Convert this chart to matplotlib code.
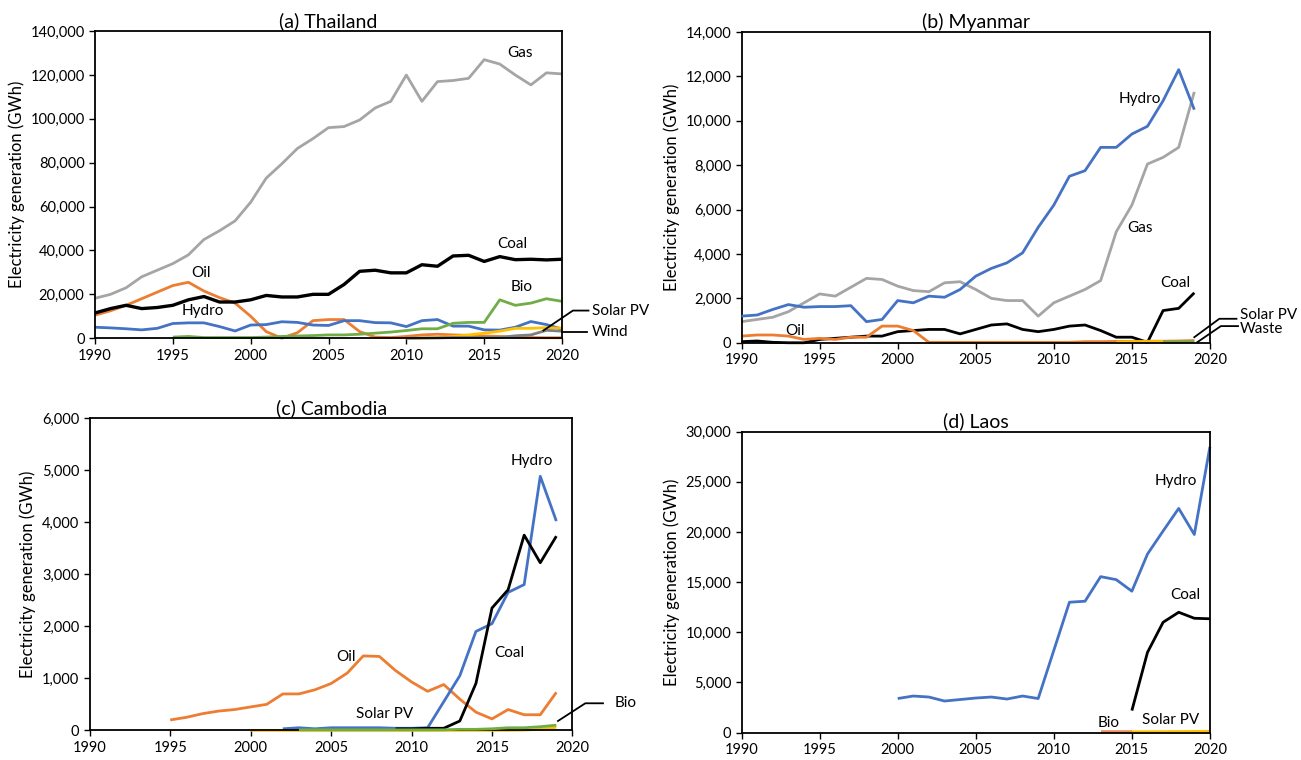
import matplotlib
matplotlib.use("Agg")
import matplotlib.pyplot as plt
from matplotlib.ticker import FuncFormatter, MultipleLocator

plt.rcParams['font.family'] = ['Lato', 'DejaVu Sans']

C_BLUE = '#4472C4'; C_ORANGE = '#ED7D31'; C_GRAY = '#A5A5A5'
C_YELLOW = '#FFC000'; C_GREEN = '#70AD47'; C_BLACK = '#000000'; C_DGRAY = '#7F7F7F'

# ---------------- (a) Thailand ----------------
th_years = list(range(1990, 2021))
th_gas = [18.2, 20, 23, 28, 31, 34, 38, 45, 49, 53.5, 62, 73, 79.5, 86.5, 91, 96, 96.5, 99.5, 105, 108,
          120, 108, 117, 117.5, 118.5, 127, 125, 120, 115.5, 121, 120.5]
th_coal = [11.5, 13.5, 15, 13.5, 14, 15, 17.5, 19, 16.5, 16.5, 17.5, 19.5, 18.8, 18.8, 20, 20, 24.5, 30.5,
           31, 29.8, 29.8, 33.5, 32.8, 37.5, 37.8, 35, 37.2, 35.8, 36, 35.7, 36]
th_oil = [10.5, 12.5, 15, 18, 21, 24, 25.5, 21.5, 18.5, 16, 10, 3, 0, 2.5, 8, 8.5, 8.5, 3, 0.5, 0.3,
          0.8, 1.5, 1.8, 1.5, 1.3, 1.0, 0.8, 0.5, 0.3, 0.2, 0.2]
th_hydro = [5, 4.7, 4.3, 3.8, 4.5, 6.7, 7, 7, 5.3, 3.3, 6, 6.2, 7.5, 7.2, 6, 5.8, 8, 8, 7.1, 7,
            5.3, 8, 8.5, 5.5, 5.5, 3.8, 3.7, 5, 7.6, 6.2, 4.2]
th_bio_years = list(range(1995, 2021))
th_bio = [0.5, 0.8, 0.3, 0.3, 0.3, 0.3, 0.5, 0.8, 1, 1.2, 1.5, 1.5, 1.8, 2.3, 2.8, 3.5, 4.3, 4.3, 6.8,
          7.2, 7.2, 17.5, 15, 16, 18, 16.8]
th_solar_years = list(range(2010, 2021))
th_solar = [0, 0.1, 0.3, 0.8, 1.5, 2.3, 3.2, 4.5, 4.5, 4.8, 4.6]
th_wind_years = list(range(2010, 2021))
th_wind = [0, 0.05, 0.1, 0.3, 0.3, 0.3, 0.3, 1.1, 1.5, 3.6, 3.2]

# ---------------- (b) Myanmar ----------------
mm_years = list(range(1990, 2020))
mm_hydro = [1.2, 1.25, 1.5, 1.72, 1.6, 1.63, 1.63, 1.67, 0.95, 1.05, 1.9, 1.8, 2.1, 2.05, 2.4, 3.0,
            3.35, 3.6, 4.05, 5.2, 6.2, 7.5, 7.75, 8.8, 8.8, 9.4, 9.75, 10.9, 12.3, 10.5]
mm_gas = [0.95, 1.05, 1.15, 1.4, 1.8, 2.2, 2.1, 2.5, 2.9, 2.85, 2.55, 2.35, 2.3, 2.7, 2.75, 2.4, 2.0,
          1.9, 1.9, 1.2, 1.8, 2.1, 2.4, 2.8, 5.0, 6.2, 8.05, 8.35, 8.8, 11.3]
mm_coal = [0.05, 0.08, 0.02, 0.0, 0.0, 0.15, 0.2, 0.25, 0.3, 0.3, 0.5, 0.55, 0.6, 0.6, 0.4, 0.6, 0.8,
           0.85, 0.6, 0.5, 0.6, 0.75, 0.8, 0.55, 0.25, 0.25, 0.02, 1.45, 1.55, 2.25]
mm_oil = [0.3, 0.35, 0.35, 0.3, 0.15, 0.2, 0.15, 0.25, 0.25, 0.75, 0.75, 0.55, 0.02, 0.02, 0.02, 0.02,
          0.02, 0.02, 0.02, 0.02, 0.02, 0.02, 0.05, 0.05, 0.06, 0.06, 0.07, 0.07, 0.08, 0.1]
mm_solar_years = list(range(2014, 2018))
mm_solar = [0.03, 0.05, 0.05, 0.06]
mm_waste_years = list(range(2017, 2020))
mm_waste = [0.04, 0.04, 0.05]

# ---------------- (c) Cambodia ----------------
kh_oil_years = list(range(1995, 2020))
kh_oil = [0.2, 0.25, 0.32, 0.37, 0.4, 0.45, 0.5, 0.7, 0.7, 0.78, 0.9, 1.1, 1.43, 1.42, 1.15, 0.93,
          0.75, 0.88, 0.6, 0.35, 0.22, 0.4, 0.3, 0.3, 0.73]
kh_hydro_years = list(range(2002, 2020))
kh_hydro = [0.03, 0.05, 0.03, 0.05, 0.05, 0.05, 0.05, 0.04, 0.04, 0.05, 0.55, 1.05, 1.9, 2.05, 2.65,
            2.8, 4.88, 4.02]
kh_coal_years = list(range(2009, 2020))
kh_coal = [0.03, 0.03, 0.04, 0.04, 0.18, 0.9, 2.35, 2.7, 3.75, 3.22, 3.73]
kh_bio_years = list(range(2003, 2020))
kh_bio = [0.01, 0.01, 0.01, 0.01, 0.01, 0.01, 0.01, 0.01, 0.01, 0.01, 0.02, 0.02, 0.03, 0.05, 0.05,
          0.07, 0.1]
kh_solar_years = list(range(2000, 2020))
kh_solar = [0.0] * 17 + [0.005, 0.02, 0.06]

# ---------------- (d) Laos ----------------
la_hydro_years = list(range(2000, 2021))
la_hydro = [3.4, 3.65, 3.55, 3.15, 3.3, 3.45, 3.55, 3.35, 3.65, 3.4, 8.2, 13.0, 13.1, 15.55, 15.25,
            14.1, 17.8, 20.1, 22.35, 19.75, 28.5]
la_coal_years = list(range(2015, 2021))
la_coal = [2.2, 8.0, 11.0, 12.0, 11.4, 11.35]
la_bio_years = list(range(2013, 2016))
la_bio = [0.05, 0.05, 0.05]
la_solar_years = list(range(2015, 2021))
la_solar = [0.05, 0.05, 0.06, 0.07, 0.08, 0.1]

fmt = FuncFormatter(lambda v, p: f"{v:,.0f}")
LW = 2.0

fig = plt.figure(figsize=(13.01, 7.6), dpi=100)

def setup(ax, title, ymax, ystep):
    ax.set_xlim(1990, 2020)
    ax.set_ylim(0, ymax)
    ax.xaxis.set_major_locator(MultipleLocator(5))
    ax.yaxis.set_major_locator(MultipleLocator(ystep))
    ax.yaxis.set_major_formatter(fmt)
    ax.tick_params(labelsize=10.5, length=4, width=1, colors='black')
    for s in ax.spines.values():
        s.set_color('black'); s.set_linewidth(1.3)
    ax.set_ylabel('Electricity generation (GWh)', fontsize=12)
    ax.set_title(title, fontsize=14, pad=3)

def k(vals):
    return [v * 1000 for v in vals]

def line(ax, x, y, c, lw=LW, z=2):
    ax.plot(x, k(y), color=c, lw=lw, zorder=z, solid_capstyle='butt', clip_on=False)

def leader(ax, pts, text, tx, ty):
    xs = [p[0] for p in pts]; ys = [p[1] for p in pts]
    ax.plot(xs, ys, color='black', lw=1.3, clip_on=False, zorder=5)
    ax.text(tx, ty, text, fontsize=11, va='center', ha='left')

# (a)
ax = fig.add_axes([0.073, 0.555, 0.359, 0.404])
setup(ax, '(a) Thailand', 140000, 20000)
line(ax, th_years, th_gas, C_GRAY)
line(ax, th_years, th_oil, C_ORANGE)
line(ax, th_years, th_hydro, C_BLUE)
line(ax, th_bio_years, th_bio, C_GREEN)
line(ax, th_solar_years, th_solar, C_YELLOW)
line(ax, th_wind_years, th_wind, C_DGRAY)
line(ax, th_years, th_coal, C_BLACK, lw=2.4, z=3)
ax.text(2017.3, 130000, 'Gas', fontsize=11, ha='center', va='center')
ax.text(2016.8, 43000, 'Coal', fontsize=11, ha='center', va='center')
ax.text(1996.8, 29600, 'Oil', fontsize=11, ha='center', va='center')
ax.text(1996.9, 12300, 'Hydro', fontsize=11, ha='center', va='center')
ax.text(2017.4, 23500, 'Bio', fontsize=11, ha='center', va='center')
leader(ax, [(2018.8, 3500), (2020.7, 12600), (2021.7, 12600)], 'Solar PV', 2021.9, 12600)
leader(ax, [(2020.0, 3000), (2021.6, 3000)], 'Wind', 2021.9, 3000)

# (b)
ax = fig.add_axes([0.570, 0.549, 0.360, 0.409])
setup(ax, '(b) Myanmar', 14000, 2000)
line(ax, mm_years, mm_gas, C_GRAY)
line(ax, mm_years, mm_coal, C_BLACK)
line(ax, mm_years, mm_oil, C_ORANGE)
line(ax, mm_solar_years, mm_solar, C_YELLOW)
line(ax, mm_waste_years, mm_waste, C_GREEN)
line(ax, mm_years, mm_hydro, C_BLUE, z=3)
ax.text(2015.5, 11000, 'Hydro', fontsize=11, ha='center', va='center')
ax.text(2015.5, 5150, 'Gas', fontsize=11, ha='center', va='center')
ax.text(2017.8, 2700, 'Coal', fontsize=11, ha='center', va='center')
ax.text(1993.4, 550, 'Oil', fontsize=11, ha='center', va='center')
leader(ax, [(2019.0, 250), (2020.6, 1080), (2021.7, 1080)], 'Solar PV', 2021.9, 1250)
leader(ax, [(2019.2, 30), (2020.7, 750), (2021.8, 750)], 'Waste', 2021.9, 600)

# (c)
ax = fig.add_axes([0.069, 0.039, 0.371, 0.411])
setup(ax, '(c) Cambodia', 6000, 1000)
line(ax, kh_oil_years, kh_oil, C_ORANGE)
line(ax, kh_solar_years, kh_solar, C_YELLOW)
line(ax, kh_hydro_years, kh_hydro, C_BLUE)
line(ax, kh_coal_years, kh_coal, C_BLACK)
line(ax, kh_bio_years, kh_bio, C_GREEN, z=3)
ax.text(2017.5, 5170, 'Hydro', fontsize=11, ha='center', va='center')
ax.text(2016.1, 1480, 'Coal', fontsize=11, ha='center', va='center')
ax.text(2005.9, 1400, 'Oil', fontsize=11, ha='center', va='center')
ax.text(2008.3, 310, 'Solar PV', fontsize=11, ha='center', va='center')
leader(ax, [(2019.1, 180), (2020.8, 520), (2021.9, 520)], 'Bio', 2022.6, 520)

# (d)
ax = fig.add_axes([0.570, 0.036, 0.360, 0.396])
setup(ax, '(d) Laos', 30000, 5000)
line(ax, la_hydro_years, la_hydro, C_BLUE)
line(ax, la_coal_years, la_coal, C_BLACK)
line(ax, la_bio_years, la_bio, '#F08C5A', lw=2.6)
line(ax, la_solar_years, la_solar, C_YELLOW, lw=2.6)
ax.text(2017.8, 25100, 'Hydro', fontsize=11, ha='center', va='center')
ax.text(2018.4, 13700, 'Coal', fontsize=11, ha='center', va='center')
ax.text(2013.5, 960, 'Bio', fontsize=11, ha='center', va='center')
ax.text(2017.5, 1280, 'Solar PV', fontsize=11, ha='center', va='center')

fig.savefig('out.png', dpi=100)
